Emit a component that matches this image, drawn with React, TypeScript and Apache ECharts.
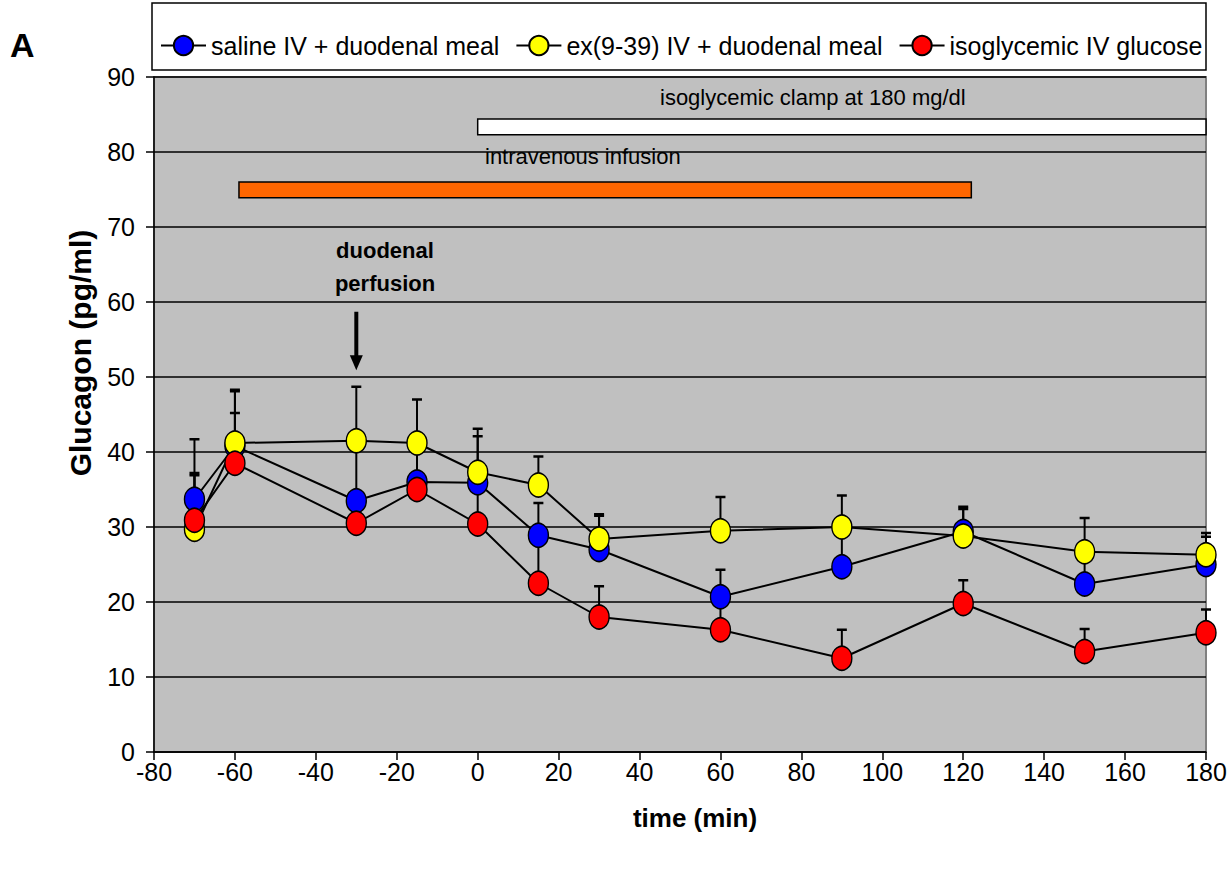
import React, { useEffect, useRef } from "react";
import * as echarts from "echarts";

// ---- data ----
const times = [-70, -60, -30, -15, 0, 15, 30, 60, 90, 120, 150, 180];
const seriesNames = [
  "saline IV + duodenal meal",
  "ex(9-39) IV + duodenal meal",
  "isoglycemic IV glucose",
];
const salineMean = [33.7, 40.8, 33.5, 36.0, 35.9, 28.9, 27.0, 20.7, 24.7, 29.4, 22.4, 25.0];
const salineErr = [8.0, 7.3, 7.0, 5.5, 6.2, 4.3, 4.5, 3.6, 4.8, 3.0, 3.8, 3.7];
const exMean = [29.7, 41.2, 41.5, 41.2, 37.3, 35.6, 28.4, 29.5, 30.0, 28.8, 26.7, 26.3];
const exErr = [7.2, 7.1, 7.2, 5.8, 5.8, 3.8, 3.3, 4.5, 4.2, 3.9, 4.5, 2.9];
const glucoseMean = [30.9, 38.5, 30.5, 35.0, 30.4, 22.5, 18.0, 16.3, 12.5, 19.8, 13.4, 15.9];
const glucoseErr = [6.3, 6.7, 3.0, 2.0, 5.0, 5.5, 4.1, 4.5, 3.8, 3.1, 3.0, 3.1];

// infusion windows [start, end] (min) and their band levels [low, high] (pg/ml scale)
const duodenalWindow = [-59, 122];
const duodenalBand = [73.9, 76.0];
const clampWindow = [0, 180];
const clampBand = [82.3, 84.4];
// arrow marking start of duodenal perfusion: [time, from, to]
const perfusionArrow = [-30, 58.7, 50.9];

const xTicks = { min: -80, max: 180, interval: 20 };
const yTicks = { min: 0, max: 90, interval: 10 };

const SANS = "'Liberation Sans', Arial, sans-serif";

const colors = ["#0000FF", "#FFFF00", "#FF0000"];

function errorSeries(mean: number[], err: number[]) {
  return {
    type: "custom",
    z: 2,
    silent: true,
    encode: { x: 0, y: 1 },
    data: times.map((t, i) => [t, mean[i], err[i]]),
    renderItem: (_p: any, api: any) => {
      const x = api.value(0);
      const m = api.value(1);
      const e = api.value(2);
      const p0 = api.coord([x, m]);
      const p1 = api.coord([x, m + e]);
      return {
        type: "group",
        children: [
          { type: "line", shape: { x1: p0[0], y1: p0[1], x2: p1[0], y2: p1[1] }, style: { stroke: "#000", lineWidth: 2 } },
          { type: "line", shape: { x1: p1[0] - 5, y1: p1[1], x2: p1[0] + 5, y2: p1[1] }, style: { stroke: "#000", lineWidth: 2.5 } },
        ],
      };
    },
  };
}

function lineSeries(name: string, mean: number[], color: string, z: number) {
  return {
    type: "line",
    name,
    z,
    data: times.map((t, i) => [t, mean[i]]),
    symbol: "circle",
    symbolSize: [20, 24],
    itemStyle: { color, borderColor: "#000", borderWidth: 1.5 },
    lineStyle: { color: "#000", width: 2 },
  };
}

export default function App() {
  const ref = useRef<HTMLDivElement>(null);
  useEffect(() => {
    if (!ref.current) return;
    const chart = echarts.init(ref.current, undefined, { renderer: "svg" });
    const option: any = {
      animation: false,
      backgroundColor: "#FFFFFF",
      grid: {
        left: 154,
        right: 26,
        top: 77,
        bottom: 138,
        show: true,
        backgroundColor: "#C0C0C0",
        borderColor: "#808080",
        borderWidth: 2,
      },
      legend: {
        data: seriesNames,
        left: 155,
        top: 28,
        itemWidth: 45,
        itemHeight: 24,
        itemGap: 16,
        textStyle: { fontFamily: SANS, fontSize: 25, color: "#000" },
        z: 5,
      },
      xAxis: {
        type: "value",
        min: xTicks.min,
        max: xTicks.max,
        interval: xTicks.interval,
        axisLine: { show: true, onZero: false, lineStyle: { color: "#000", width: 1.5 } },
        axisTick: { show: true, length: 8, lineStyle: { color: "#000", width: 1.5 } },
        axisLabel: { fontFamily: SANS, fontSize: 25, color: "#000", margin: 7 },
        splitLine: { show: false },
      },
      yAxis: {
        type: "value",
        min: yTicks.min,
        max: yTicks.max,
        interval: yTicks.interval,
        axisLine: { show: true, onZero: false, lineStyle: { color: "#000", width: 1.5 } },
        axisTick: { show: true, length: 8, lineStyle: { color: "#000", width: 1.5 } },
        axisLabel: { fontFamily: SANS, fontSize: 25, color: "#000", margin: 19 },
        splitLine: { show: true, lineStyle: { color: "#000", width: 1.5 } },
      },
      graphic: [
        {
          type: "rect",
          z: 0,
          shape: { x: 152, y: 3, width: 1054, height: 67 },
          style: { fill: "#FFFFFF", stroke: "#000", lineWidth: 1.5 },
        },
        {
          type: "text",
          x: 10,
          y: 45,
          style: { text: "A", font: `bold 34px ${SANS}`, fill: "#000", textVerticalAlign: "middle" },
        },
        {
          type: "text",
          x: 660,
          y: 97,
          z: 10,
          style: { text: "isoglycemic clamp at 180 mg/dl", font: `22px ${SANS}`, fill: "#000", textVerticalAlign: "middle" },
        },
        {
          type: "text",
          x: 485,
          y: 156,
          z: 10,
          style: { text: "intravenous infusion", font: `22px ${SANS}`, fill: "#000", textVerticalAlign: "middle" },
        },
        {
          type: "text",
          x: 385,
          y: 267,
          z: 10,
          style: {
            text: "duodenal\nperfusion",
            font: `bold 22px ${SANS}`,
            lineHeight: 33,
            fill: "#000",
            textAlign: "center",
            textVerticalAlign: "middle",
          },
        },
        {
          type: "text",
          x: 695,
          y: 818,
          style: { text: "time (min)", font: `bold 26px ${SANS}`, fill: "#000", textAlign: "center", textVerticalAlign: "middle" },
        },
        {
          type: "text",
          x: 80,
          y: 353,
          rotation: Math.PI / 2,
          style: { text: "Glucagon (pg/ml)", font: `bold 30px ${SANS}`, fill: "#000", textAlign: "center", textVerticalAlign: "middle" },
        },
      ],
      series: [
        {
          type: "custom",
          z: 4,
          silent: true,
          encode: { x: [0, 1], y: [2, 3] },
          data: [
            [duodenalWindow[0], duodenalWindow[1], duodenalBand[0], duodenalBand[1], 0],
            [clampWindow[0], clampWindow[1], clampBand[0], clampBand[1], 1],
          ],
          renderItem: (_p: any, api: any) => {
            const a = api.coord([api.value(0), api.value(3)]);
            const b = api.coord([api.value(1), api.value(2)]);
            const fills = ["#FF6600", "#FFFFFF"];
            return {
              type: "rect",
              shape: { x: a[0], y: a[1], width: b[0] - a[0], height: b[1] - a[1] },
              style: { fill: fills[api.value(4)], stroke: "#000", lineWidth: 1.5 },
            };
          },
        },
        {
          type: "custom",
          z: 4,
          silent: true,
          encode: { x: 0, y: [1, 2] },
          data: [perfusionArrow],
          renderItem: (_p: any, api: any) => {
            const s = api.coord([api.value(0), api.value(1)]);
            const e = api.coord([api.value(0), api.value(2)]);
            return {
              type: "group",
              children: [
                { type: "line", shape: { x1: s[0], y1: s[1], x2: e[0], y2: e[1] - 12 }, style: { stroke: "#000", lineWidth: 4 } },
                {
                  type: "polygon",
                  shape: { points: [[e[0] - 6.5, e[1] - 15], [e[0] + 6.5, e[1] - 15], [e[0], e[1]]] },
                  style: { fill: "#000" },
                },
              ],
            };
          },
        },
        errorSeries(salineMean, salineErr),
        errorSeries(exMean, exErr),
        errorSeries(glucoseMean, glucoseErr),
        lineSeries(seriesNames[0], salineMean, colors[0], 3),
        lineSeries(seriesNames[1], exMean, colors[1], 3),
        lineSeries(seriesNames[2], glucoseMean, colors[2], 3),
      ],
    };
    chart.setOption(option);
    return () => chart.dispose();
  }, []);
  return (
    <div
      ref={ref}
      style={{ position: "absolute", left: 0, top: 0, width: 1232, height: 890 }}
    />
  );
}
